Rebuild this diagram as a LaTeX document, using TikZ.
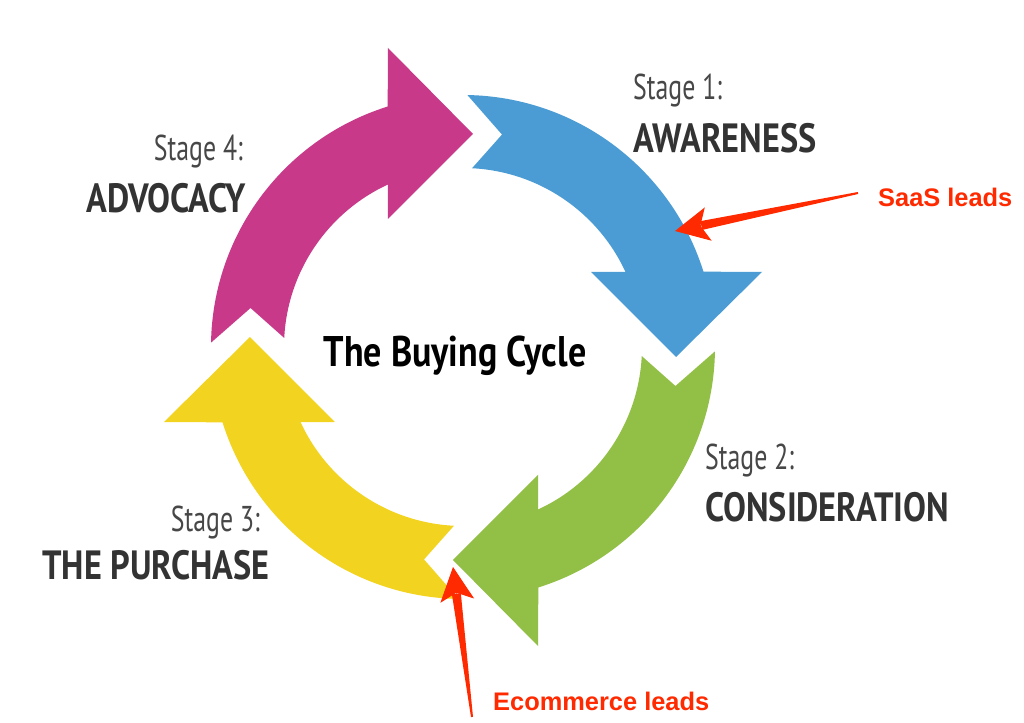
\documentclass[tikz,border=0pt]{standalone}
\usepackage{fontspec}
\usetikzlibrary{
    arrows.meta,
    calc
}
\newfontfamily\stagefont[FakeStretch=0.72]{PT Sans}
\newfontfamily\namefont[FakeStretch=0.84]{PT Sans}
\newfontfamily\leadfont{Liberation Sans}

\definecolor{awareblue}{HTML}{4B9CD4}
\definecolor{considergreen}{HTML}{92BF45}
\definecolor{purchaseyellow}{HTML}{F2D31F}
\definecolor{advocacymagenta}{HTML}{C8398A}
\definecolor{leadred}{HTML}{FF2A00}
\definecolor{textgray}{HTML}{474747}
\definecolor{namegray}{HTML}{333333}

\tikzset{
    stage/.style={font=\stagefont\fontsize{36}{40}\selectfont, text=textgray, inner sep=0pt},
    stagename/.style={font=\namefont\bfseries\fontsize{41}{45}\selectfont, text=namegray, inner sep=0pt},
    cycletitle/.style={font=\namefont\bfseries\fontsize{43}{47}\selectfont, text=black, inner sep=0pt},
    lead/.style={font=\leadfont\bfseries\fontsize{25.5}{28}\selectfont, text=leadred, inner sep=0pt},
    leadhead/.style={leadred, line width=1pt, -{Stealth[length=34pt,width=34pt,inset=8pt]}}
}

\begin{document}
\begin{tikzpicture}[x=1bp, y=1bp]
    % one arrow of the cycle, the others are rotated copies
    \def\cyclearrow{(89:252) arc[start angle=89, end angle=17.4, radius=252]
        -- (299,75) -- (213,-10) -- (128,75) -- (24.8:179)
        arc[start angle=24.8, end angle=87.1, radius=179] -- (79.6:216) -- cycle}

    \fill[white] (-463,-376) rectangle (561,347);
    \useasboundingbox (-463,-376) rectangle (561,347);

    \fill[awareblue]                     \cyclearrow;
    \fill[considergreen,   rotate=-90]   \cyclearrow;
    \fill[purchaseyellow,  rotate=-180]  \cyclearrow;
    \fill[advocacymagenta, rotate=-270]  \cyclearrow;

    \node[cycletitle, anchor=base] (title) at (-8,-20) {The Buying Cycle};

    \node[stage, anchor=base west]     (stage1) at (170,247)   {Stage 1:};
    \node[stagename, anchor=base west] (aware)  at (170,194)   {AWARENESS};
    \node[stage, anchor=base west]     (stage2) at (242,-123)  {Stage 2:};
    \node[stagename, anchor=base west] (consid) at (242,-175)  {CONSIDERATION};
    \node[stage, anchor=base east]     (stage3) at (-203,-185) {Stage 3:};
    \node[stagename, anchor=base east] (purch)  at (-193,-233) {THE PURCHASE};
    \node[stage, anchor=base east]     (stage4) at (-220,186)  {Stage 4:};
    \node[stagename, anchor=base east] (advoc)  at (-217,134)  {ADVOCACY};

    % lead markers
    \node[lead, anchor=base west] (saas) at (415,140)  {SaaS leads};
    \node[lead, anchor=base west] (ecom) at (30,-363)  {Ecommerce leads};

    \coordinate (saastip)  at (212,116);
    \coordinate (saastail) at (395,154);
    \coordinate (ecomtip)  at (-10,-220);
    \coordinate (ecomtail) at (9,-370);

    \coordinate (saasbase) at ($(saastip)!27pt!(saastail)$);
    \coordinate (ecombase) at ($(ecomtip)!27pt!(ecomtail)$);

    \fill[leadred] ($(saastail)!1pt!90:(saastip)$) -- ($(saasbase)!4.5pt!90:(saastip)$)
        -- ($(saasbase)!4.5pt!-90:(saastip)$) -- ($(saastail)!1pt!-90:(saastip)$) -- cycle;
    \draw[leadhead] (saasbase) -- (saastip);

    \fill[leadred] ($(ecomtail)!1pt!90:(ecomtip)$) -- ($(ecombase)!4.5pt!90:(ecomtip)$)
        -- ($(ecombase)!4.5pt!-90:(ecomtip)$) -- ($(ecomtail)!1pt!-90:(ecomtip)$) -- cycle;
    \draw[leadhead] (ecombase) -- (ecomtip);
\end{tikzpicture}
\end{document}
